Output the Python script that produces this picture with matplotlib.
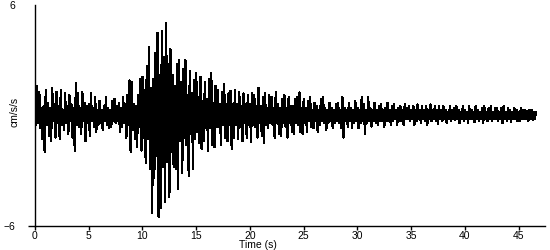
import numpy as np
import matplotlib
matplotlib.use("Agg")
import matplotlib.pyplot as plt

plt.rcParams['font.family'] = ['Liberation Sans', 'DejaVu Sans']

dt = 0.1  # sampling step of the read-off trace (s)

# Acceleration trace (cm/s/s), 10 samples per second
trace = [
    0.6, -0.5, 1.6, -0.4, 1.3, -0.7, 0.4, -1.3, 0.5, -2.0,
    1.4, -0.5, 0.7, -1.1, 0.4, -1.4, 1.5, -0.3, 0.6, -1.2,
    1.3, -0.4, 0.5, -1.3, 1.4, -0.5, 0.3, -0.8, 1.2, -0.4,
    0.5, -1.0, 1.1, -0.3, 0.6, -1.2, 0.4, -1.95, 1.75, -0.5,
    1.2, -0.6, 0.4, -1.0, 1.3, -0.3, 0.7, -1.4, 0.5, -0.4,
    0.6, -1.1, 1.2, -0.3, 0.4, -0.6, 1.0, -0.9, 0.3, -0.5,
    0.8, -0.4, 0.3, -0.8, 0.5, -0.3, 1.0, -0.5, 0.4, -0.7,
    0.3, -0.6, 0.8, -0.3, 0.9, -0.4, 0.5, -0.3, 0.7, -0.9,
    0.4, -0.6, 1.0, -0.4, 0.6, -1.2, 1.1, -0.5, 1.9, -2.0,
    1.8, -0.8, 0.6, -1.3, 0.5, -1.7, 1.1, -0.6, 2.0, -1.9,
    2.1, -1.2, 1.4, -2.6, 2.7, -1.3, 3.7, -2.9, 1.5, -5.3,
    2.0, -3.4, 3.4, -2.2, 4.5, -5.5, 2.2, -5.0, 4.6, -2.8,
    3.2, -4.7, 5.0, -2.5, 2.8, -4.4, 3.6, -2.0, 2.2, -2.8,
    1.6, -2.9, 2.8, -4.0, 3.0, -1.4, 1.8, -3.1, 2.5, -1.2,
    3.0, -1.6, 1.1, -3.3, 2.4, -1.0, 1.2, -2.9, 1.9, -1.3,
    2.3, -0.9, 1.0, -1.5, 2.1, -1.8, 0.8, -1.4, 1.8, -0.7,
    0.9, -1.9, 2.0, -0.7, 2.3, -1.6, 0.7, -1.7, 1.6, -0.6,
    1.4, -0.6, 0.6, -1.6, 1.3, -0.5, 1.7, -1.2, 0.6, -1.4,
    1.2, -0.5, 1.35, -1.8, 0.6, -1.2, 1.4, -0.5, 0.6, -1.3,
    1.3, -0.6, 0.5, -1.4, 1.2, -0.4, 0.6, -1.2, 1.1, -0.5,
    0.6, -1.45, 1.2, -0.5, 1.1, -0.6, 0.5, -1.2, 1.5, -0.4,
    0.5, -1.1, 1.0, -1.5, 1.2, -0.5, 0.4, -0.7, 1.1, -0.4,
    1.0, -0.5, 0.4, -1.2, 1.3, -0.4, 0.6, -1.0, 0.4, -1.1,
    0.9, -0.4, 1.1, -0.6, 0.4, -1.2, 1.0, -0.4, 0.5, -0.9,
    0.5, -1.0, 0.9, -0.4, 1.0, -0.5, 1.25, -0.9, 0.4, -1.0,
    0.9, -0.4, 0.4, -0.9, 0.8, -0.3, 1.0, -0.6, 0.3, -0.7,
    0.7, -0.3, 0.5, -0.9, 0.3, -0.5, 0.9, -0.3, 1.0, -0.4,
    0.4, -0.8, 0.3, -0.4, 0.7, -0.3, 0.4, -0.7, 0.3, -0.4,
    0.6, -0.3, 0.7, -0.4, 0.3, -0.7, 1.0, -1.2, 0.4, -0.3,
    0.3, -0.6, 0.7, -0.3, 0.4, -0.7, 0.3, -0.4, 0.8, -0.3,
    0.4, -0.7, 0.3, -0.4, 1.0, -0.3, 0.6, -1.0, 0.3, -0.4,
    1.0, -0.3, 0.4, -0.6, 0.3, -0.3, 0.7, -0.4, 0.3, -0.5,
    0.5, -0.3, 0.6, -0.3, 0.3, -0.6, 0.4, -0.3, 0.7, -0.3,
    0.3, -0.5, 0.5, -0.3, 0.6, -0.2, 0.3, -0.5, 0.4, -0.3,
    0.5, -0.3, 0.3, -0.5, 0.6, -0.2, 0.4, -0.2, 0.5, -0.3,
    0.3, -0.2, 0.5, -0.5, 0.3, -0.3, 0.6, -0.2, 0.3, -0.4,
    0.5, -0.2, 0.3, -0.3, 0.5, -0.5, 0.3, -0.2, 0.6, -0.3,
    0.3, -0.2, 0.5, -0.3, 0.3, -0.45, 0.5, -0.2, 0.3, -0.3,
    0.5, -0.2, 0.3, -0.4, 0.2, -0.2, 0.5, -0.3, 0.3, -0.2,
    0.4, -0.25, 0.5, -0.2, 0.3, -0.4, 0.2, -0.2, 0.5, -0.3,
    0.3, -0.2, 0.2, -0.4, 0.5, -0.2, 0.3, -0.2, 0.2, -0.35,
    0.5, -0.2, 0.3, -0.3, 0.2, -0.2, 0.4, -0.4, 0.5, -0.2,
    0.2, -0.3, 0.4, -0.2, 0.5, -0.3, 0.2, -0.2, 0.4, -0.2,
    0.4, -0.3, 0.2, -0.2, 0.4, -0.4, 0.5, -0.2, 0.2, -0.3,
    0.4, -0.2, 0.3, -0.35, 0.2, -0.2, 0.4, -0.2, 0.3, -0.3,
    0.2, -0.3, 0.4, -0.2, 0.3, -0.2, 0.3, -0.2, 0.25, -0.3,
    0.3, -0.2, 0.3, -0.25, 0.2, -0.2, 0.2,
]

x_ticks = [0, 5, 10, 15, 20, 25, 30, 35, 40, 45]
y_ticks = [-6, 6]
x_label = "Time (s)"
y_label = "cm/s/s"

t = np.arange(len(trace)) * dt

W, H = 550, 250
fig = plt.figure(figsize=(W / 100, H / 100), dpi=100)
left, right, top, bottom = 35, 545, 5, 226
ax = fig.add_axes([left / W, 1 - bottom / H, (right - left) / W, (bottom - top) / H])

ax.plot(t, trace, color='black', lw=0.9, antialiased=False)

ax.set_xlim(0, 47.45)
ax.set_ylim(-6, 6)
ax.set_xticks(x_ticks)
ax.set_yticks(y_ticks)
for s in ('top', 'right'):
    ax.spines[s].set_visible(False)
for s in ('left', 'bottom'):
    ax.spines[s].set_linewidth(1.0)
    ax.spines[s].set_color('black')

ax.tick_params(axis='x', direction='out', length=3, width=1, pad=0.5, labelsize=7.5)
ax.tick_params(axis='y', direction='out', length=5, width=1, pad=9, labelsize=7.5)
ax.yaxis.get_major_ticks()[1].tick1line.set_visible(False)

fig.text(258 / W, 1 - 244.5 / H, x_label, fontsize=7.5, ha='center', va='center')
fig.text(15 / W, 1 - 112 / H, y_label, rotation=90, fontsize=7.5,
         ha='center', va='center')

fig.savefig("out.png", dpi=100)
